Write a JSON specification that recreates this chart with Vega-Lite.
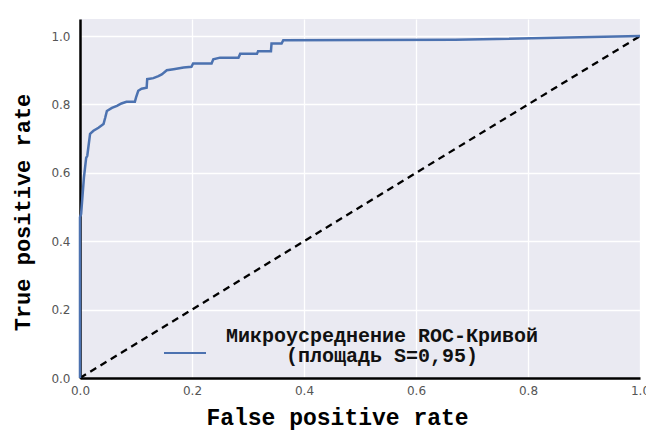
{
  "$schema": "https://vega.github.io/schema/vega-lite/v6.json",
  "width": 560,
  "height": 359,
  "autosize": {"type": "none"},
  "padding": {"left": 80, "top": 19, "right": 6, "bottom": 54},
  "background": "white",
  "config": {
    "view": {"fill": "#eaeaf2", "stroke": null},
    "axis": {
      "grid": true,
      "gridColor": "white",
      "gridWidth": 1.3,
      "domainColor": "black",
      "domainWidth": 2.5,
      "ticks": false,
      "labelFlush": false,
      "labelFont": "DejaVu Sans",
      "labelFontSize": 12,
      "labelColor": "#555555",
      "titleFont": "Liberation Mono",
      "titleFontWeight": "bold",
      "titleColor": "black",
      "zindex": 1
    }
  },
  "datasets": {
    "roc": [
      {"fpr": 0.0, "tpr": 0.0},
      {"fpr": 0.0, "tpr": 0.47},
      {"fpr": 0.002, "tpr": 0.48},
      {"fpr": 0.007, "tpr": 0.586},
      {"fpr": 0.011, "tpr": 0.644},
      {"fpr": 0.013, "tpr": 0.65},
      {"fpr": 0.018, "tpr": 0.714},
      {"fpr": 0.024, "tpr": 0.723},
      {"fpr": 0.033, "tpr": 0.732},
      {"fpr": 0.042, "tpr": 0.743},
      {"fpr": 0.045, "tpr": 0.761},
      {"fpr": 0.048, "tpr": 0.781},
      {"fpr": 0.057, "tpr": 0.79},
      {"fpr": 0.066, "tpr": 0.796},
      {"fpr": 0.074, "tpr": 0.803},
      {"fpr": 0.083, "tpr": 0.808},
      {"fpr": 0.098, "tpr": 0.808},
      {"fpr": 0.1, "tpr": 0.82},
      {"fpr": 0.104, "tpr": 0.84},
      {"fpr": 0.11, "tpr": 0.846},
      {"fpr": 0.119, "tpr": 0.849},
      {"fpr": 0.12, "tpr": 0.874},
      {"fpr": 0.131, "tpr": 0.877},
      {"fpr": 0.14, "tpr": 0.883},
      {"fpr": 0.146, "tpr": 0.888},
      {"fpr": 0.155, "tpr": 0.9},
      {"fpr": 0.167, "tpr": 0.903},
      {"fpr": 0.185, "tpr": 0.908},
      {"fpr": 0.199, "tpr": 0.91},
      {"fpr": 0.202, "tpr": 0.92},
      {"fpr": 0.235, "tpr": 0.92},
      {"fpr": 0.238, "tpr": 0.932},
      {"fpr": 0.25, "tpr": 0.937},
      {"fpr": 0.283, "tpr": 0.937},
      {"fpr": 0.286, "tpr": 0.948},
      {"fpr": 0.316, "tpr": 0.948},
      {"fpr": 0.318, "tpr": 0.956},
      {"fpr": 0.341, "tpr": 0.956},
      {"fpr": 0.342, "tpr": 0.978},
      {"fpr": 0.36, "tpr": 0.978},
      {"fpr": 0.363, "tpr": 0.988},
      {"fpr": 0.67, "tpr": 0.989},
      {"fpr": 1.0, "tpr": 1.0}
    ],
    "diag": [
      {"fpr": 0.0, "tpr": 0.0},
      {"fpr": 1.0, "tpr": 1.0}
    ]
  },
  "encoding": {
    "x": {
      "field": "fpr",
      "type": "quantitative",
      "scale": {"domain": [0, 1], "nice": false, "zero": false},
      "axis": {
        "title": "False positive rate",
        "values": [0, 0.2, 0.4, 0.6, 0.8, 1.0],
        "format": ".1f",
        "labelPadding": 7,
        "titleFontSize": 23,
        "titlePadding": 10,
        "titleX": 257
      }
    },
    "y": {
      "field": "tpr",
      "type": "quantitative",
      "scale": {"domain": [0, 1.05], "nice": false, "zero": false},
      "axis": {
        "title": "True positive rate",
        "values": [0, 0.2, 0.4, 0.6, 0.8, 1.0],
        "format": ".1f",
        "labelPadding": 10,
        "titleFontSize": 22,
        "titlePadding": 16,
        "titleY": 193
      }
    }
  },
  "layer": [
    {
      "data": {"name": "diag"},
      "mark": {"type": "line", "color": "black", "strokeWidth": 2.3, "strokeDash": [7, 5]}
    },
    {
      "data": {"name": "roc"},
      "mark": {"type": "line", "strokeWidth": 2.5},
      "encoding": {
        "color": {
          "datum": "Микроусреднение ROC-Кривой\n(площадь S=0,95)",
          "type": "nominal",
          "scale": {"range": ["#4c72b0"]},
          "legend": {
            "title": null,
            "orient": "none",
            "legendX": 83,
            "legendY": 312,
            "padding": 0,
            "symbolType": "stroke",
            "symbolSize": 1764,
            "symbolStrokeWidth": 2,
            "labelExpr": "split(datum.label, '\\n')",
            "labelFont": "Liberation Mono",
            "labelFontWeight": "bold",
            "labelFontSize": 20,
            "labelColor": "#111111",
            "labelAlign": "center",
            "labelOffset": 175,
            "labelLimit": 1000,
            "encode": {
              "labels": {
                "update": {
                  "dy": {"value": -17},
                  "lineHeight": {"value": 20}
                }
              }
            }
          }
        }
      }
    }
  ]
}
